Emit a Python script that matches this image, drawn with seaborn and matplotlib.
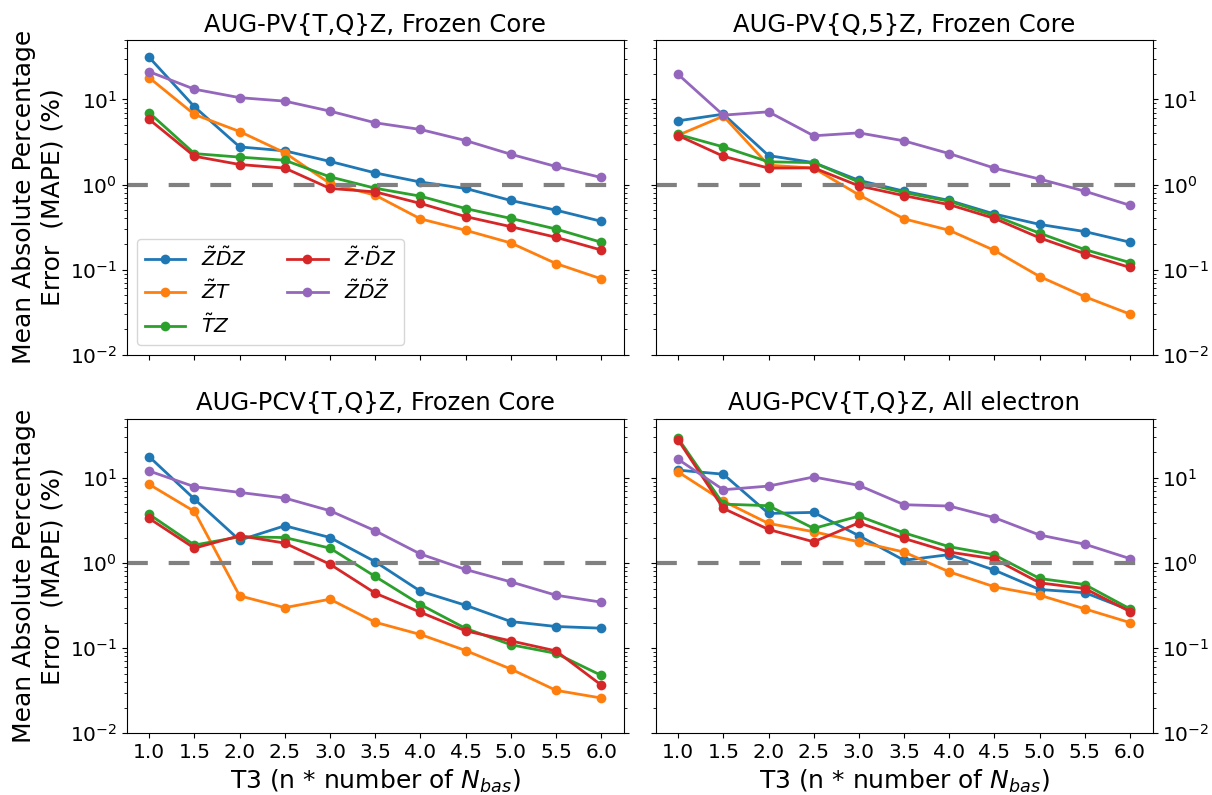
"""
MAPE of the T3 extrapolation schemes vs. the T3 truncation size (n * N_bas)
for four basis-set / core settings.
"""
import matplotlib
matplotlib.use("Agg")
import matplotlib.pyplot as plt
import numpy as np
import pandas as pd
import seaborn as sns

# x values (T3 = n * N_bas)
n_values = [1.0, 1.5, 2.0, 2.5, 3.0, 3.5, 4.0, 4.5, 5.0, 5.5, 6.0]

methods = [r"$\tilde{Z}\tilde{D}Z$", r"$\tilde{Z}T$", r"$\tilde{T}Z$",
           r"$\tilde{Z}{\cdot}\tilde{D}Z$", r"$\tilde{Z}\tilde{D}\tilde{Z}$"]

titles = ["AUG-PV{T,Q}Z, Frozen Core", "AUG-PV{Q,5}Z, Frozen Core",
          "AUG-PCV{T,Q}Z, Frozen Core", "AUG-PCV{T,Q}Z, All electron"]

# AUG-PV{T,Q}Z, frozen core
pvtq_zdz = [31.2, 8.2, 2.77, 2.49, 1.87, 1.37, 1.07, 0.90, 0.65, 0.50, 0.37]
pvtq_zt = [18.0, 6.66, 4.2, 2.36, 1.03, 0.75, 0.395, 0.29, 0.206, 0.118, 0.078]
pvtq_tz = [6.97, 2.31, 2.10, 1.93, 1.23, 0.905, 0.73, 0.522, 0.40, 0.30, 0.21]
pvtq_zcdz = [5.82, 2.15, 1.72, 1.56, 0.90, 0.82, 0.60, 0.42, 0.32, 0.24, 0.17]
pvtq_zdzt = [21.2, 13.2, 10.5, 9.56, 7.29, 5.32, 4.44, 3.29, 2.27, 1.63, 1.21]

# AUG-PV{Q,5}Z, frozen core
pvq5_zdz = [5.61, 6.72, 2.19, 1.81, 1.12, 0.835, 0.65, 0.45, 0.34, 0.28, 0.21]
pvq5_zt = [3.8, 6.37, 1.69, 1.56, 0.756, 0.395, 0.29, 0.168, 0.083, 0.048, 0.030]
pvq5_tz = [3.88, 2.77, 1.85, 1.81, 1.07, 0.805, 0.636, 0.43, 0.268, 0.172, 0.121]
pvq5_zcdz = [3.77, 2.15, 1.56, 1.57, 0.965, 0.74, 0.58, 0.40, 0.236, 0.154, 0.106]
pvq5_zdzt = [19.7, 6.54, 7.16, 3.74, 4.05, 3.26, 2.31, 1.56, 1.16, 0.835, 0.57]

# AUG-PCV{T,Q}Z, frozen core
pcvfc_zdz = [17.8, 5.66, 1.86, 2.75, 2.0, 1.04, 0.468, 0.32, 0.206, 0.18, 0.172]
pcvfc_zt = [8.42, 4.05, 0.413, 0.30, 0.377, 0.202, 0.145, 0.094, 0.057, 0.032, 0.026]
pcvfc_tz = [3.74, 1.63, 2.04, 2.0, 1.50, 0.697, 0.326, 0.171, 0.110, 0.087, 0.048]
pcvfc_zcdz = [3.35, 1.50, 2.10, 1.72, 0.97, 0.444, 0.265, 0.16, 0.122, 0.093, 0.037]
pcvfc_zdzt = [12.1, 7.91, 6.78, 5.82, 4.13, 2.40, 1.28, 0.842, 0.603, 0.42, 0.348]

# AUG-PCV{T,Q}Z, all electron
pcvae_zdz = [12.4, 11.1, 3.84, 3.95, 2.10, 1.08, 1.26, 0.827, 0.49, 0.45, 0.28]
pcvae_zt = [11.8, 5.36, 2.93, 2.34, 1.78, 1.35, 0.79, 0.527, 0.42, 0.29, 0.20]
pcvae_tz = [29.3, 4.94, 4.73, 2.56, 3.57, 2.27, 1.56, 1.25, 0.66, 0.56, 0.29]
pcvae_zcdz = [28.0, 4.40, 2.49, 1.78, 2.98, 1.95, 1.35, 1.12, 0.587, 0.503, 0.27]
pcvae_zdzt = [16.6, 7.29, 8.05, 10.3, 8.2, 4.86, 4.69, 3.42, 2.14, 1.67, 1.13]

panels = [
    [pvtq_zdz, pvtq_zt, pvtq_tz, pvtq_zcdz, pvtq_zdzt],
    [pvq5_zdz, pvq5_zt, pvq5_tz, pvq5_zcdz, pvq5_zdzt],
    [pcvfc_zdz, pcvfc_zt, pcvfc_tz, pcvfc_zcdz, pcvfc_zdzt],
    [pcvae_zdz, pcvae_zt, pcvae_tz, pcvae_zcdz, pcvae_zdzt],
]

colors = sns.color_palette("tab10", 5)

if __name__ == "__main__":
    fig, axes = plt.subplots(2, 2, figsize=(12.12, 7.95), dpi=100, sharex=True, sharey=True)
    plt.subplots_adjust(left=0.1045, right=0.951, top=0.9497, bottom=0.0776,
                        wspace=0.064, hspace=0.203)

    for i, ax in enumerate(axes.flat):
        for label, values, color in zip(methods, panels[i], colors):
            df = pd.DataFrame({"n": n_values, "mape": values})
            sns.lineplot(data=df, x="n", y="mape", ax=ax, color=color, label=label,
                         marker="o", markersize=7, markeredgewidth=0, linewidth=2)
        ax.axhline(1.0, color="grey", linestyle=(0, (5, 5)), linewidth=3)
        ax.set_yscale("log")
        ax.set_ylim(1e-2, 50)
        ax.set_title(titles[i], fontsize=17.5)
        ax.set_xticks(n_values)
        ax.tick_params(axis="both", which="major", labelsize=14.5)
        ax.tick_params(axis="y", which="both", left=True, right=True)
        if i % 2 == 1:
            ax.tick_params(axis="y", which="both", labelleft=False, labelright=True)
            ax.set_ylabel("")
        else:
            ax.set_ylabel("Mean Absolute Percentage\nError  (MAPE) (%)", fontsize=18)
        if i >= 2:
            ax.set_xlabel(r"T3 (n * number of $N_{bas}$)", fontsize=18)
        else:
            ax.set_xlabel("")
        if i == 0:
            ax.legend(loc="lower left", ncol=2, fontsize=14.5)
        else:
            ax.get_legend().remove()

    plt.savefig("out.png", dpi=100)
